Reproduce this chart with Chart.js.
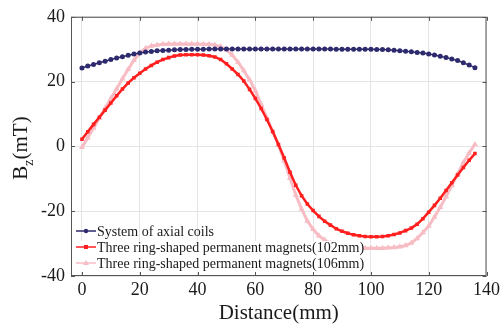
<!DOCTYPE html>
<html>
<head>
<meta charset="utf-8">
<script src="https://cdn.jsdelivr.net/npm/chart.js@4.4.0/dist/chart.umd.min.js"></script>
<style>
  html, body { margin: 0; padding: 0; background: #fff; }
</style>
</head>
<body>
<canvas id="fieldChart" width="503" height="326"></canvas>
<script>
// axial field Bz (mT) along the distance (mm)
const distance = [0, 2, 4, 6, 8, 10, 12, 14, 16, 18, 20, 22, 24, 26, 28, 30, 32, 34, 36, 38,
  40, 42, 44, 46, 48, 50, 52, 54, 56, 58, 60, 62, 64, 66, 68, 70, 72, 74, 76, 78,
  80, 82, 84, 86, 88, 90, 92, 94, 96, 98, 100, 102, 104, 106, 108, 110, 112, 114, 116, 118,
  120, 122, 124, 126, 128, 130, 132, 134, 136];

const coilField = [24.2, 24.8, 25.3, 25.8, 26.3, 26.8, 27.3, 27.7, 28.1, 28.5, 28.8, 29.1, 29.3, 29.5, 29.6, 29.7, 29.8, 29.9, 29.9, 30.0,
  30.0, 30.0, 30.1, 30.1, 30.1, 30.1, 30.1, 30.1, 30.1, 30.1, 30.1, 30.1, 30.1, 30.1, 30.1, 30.1, 30.1, 30.1, 30.1, 30.1,
  30.1, 30.1, 30.1, 30.1, 30.0, 30.0, 30.0, 30.0, 30.0, 30.0, 30.0, 29.9, 29.9, 29.8, 29.7, 29.5, 29.4, 29.2, 29.0, 28.8,
  28.5, 28.2, 27.8, 27.4, 27.0, 26.5, 25.8, 25.1, 24.3];

const ring102Field = [2.2, 4.5, 6.8, 9.0, 11.2, 13.4, 15.6, 17.7, 19.6, 21.2, 22.6, 23.9, 25.0, 26.0, 26.8, 27.4, 27.9, 28.2, 28.3, 28.3,
  28.3, 28.2, 28.0, 27.6, 26.8, 25.5, 23.9, 22.2, 20.2, 17.6, 14.8, 11.7, 8.3, 4.6, 0.6, -3.6, -8.0, -12.0, -15.2, -17.8,
  -19.8, -21.6, -23.1, -24.3, -25.4, -26.2, -26.8, -27.3, -27.6, -27.8, -27.9, -27.9, -27.8, -27.6, -27.2, -26.7, -26.0, -25.2, -24.0, -22.3,
  -20.3, -18.2, -16.0, -13.6, -11.2, -8.8, -6.5, -4.3, -2.2];

const ring106Field = [-0.3, 2.7, 5.7, 8.7, 11.8, 14.8, 17.8, 20.9, 23.8, 26.6, 28.9, 30.3, 31.0, 31.3, 31.5, 31.6, 31.6, 31.6, 31.6, 31.6,
  31.6, 31.5, 31.5, 31.3, 30.8, 29.8, 28.2, 26.0, 23.4, 20.6, 17.2, 13.0, 8.8, 4.6, 0.4, -4.4, -9.8, -15.0, -19.3, -23.0,
  -25.6, -27.6, -28.9, -29.9, -30.6, -31.0, -31.2, -31.3, -31.4, -31.4, -31.4, -31.4, -31.4, -31.3, -31.2, -31.0, -30.6, -29.8, -28.4, -26.6,
  -24.6, -21.8, -18.8, -15.5, -12.1, -8.5, -5.0, -2.0, 0.6];

const seriesNames = [
  'System of axial coils',
  'Three ring-shaped permanent magnets(102mm)',
  'Three ring-shaped permanent magnets(106mm)'
];
const xTicks = [0, 20, 40, 60, 80, 100, 120, 140];
const yTicks = [-40, -20, 0, 20, 40];

const serif = "'Liberation Serif', 'Times New Roman', serif";
const colors = ['#2e2a6e', '#ff1f1f', '#f7bcc4'];
const markers = ['circle', 'rect', 'triangle'];

function points(values) {
  return distance.map((d, i) => ({ x: d, y: values[i] }));
}

// frame with inward ticks, legend inside the plot, and the B_z axis title
const decorations = {
  id: 'decorations',
  afterDraw(chart) {
    const ctx = chart.ctx;
    const area = chart.chartArea;
    const xs = chart.scales.x, ys = chart.scales.y;
    ctx.save();

    // legend (white patch only behind the two lower rows, as in the original)
    ctx.fillStyle = '#fff';
    ctx.fillRect(73, 241, 290, 31);
    ctx.font = '14px ' + serif;
    ctx.textBaseline = 'middle';
    const rows = [231, 247, 263];
    for (let i = 0; i < 3; i++) {
      const y = rows[i];
      ctx.strokeStyle = colors[i];
      ctx.fillStyle = colors[i];
      ctx.lineWidth = 1.5;
      ctx.beginPath();
      ctx.moveTo(76, y);
      ctx.lineTo(96, y);
      ctx.stroke();
      ctx.beginPath();
      if (markers[i] === 'circle') {
        ctx.arc(86, y, 2.2, 0, Math.PI * 2);
      } else if (markers[i] === 'rect') {
        ctx.rect(84, y - 2, 4, 4);
      } else {
        ctx.moveTo(86, y - 3);
        ctx.lineTo(89, y + 2);
        ctx.lineTo(83, y + 2);
        ctx.closePath();
      }
      ctx.fill();
      ctx.fillStyle = '#1a1a1a';
      ctx.fillText(seriesNames[i], 97, y + 1);
    }

    // frame
    ctx.strokeStyle = '#555';
    ctx.lineWidth = 1;
    ctx.strokeRect(area.left + 0.5, area.top + 0.5, area.right - area.left - 1, area.bottom - area.top - 1);
    ctx.beginPath();
    xTicks.forEach(v => {
      const px = Math.round(xs.getPixelForValue(v)) + 0.5;
      ctx.moveTo(px, area.bottom);
      ctx.lineTo(px, area.bottom - 4);
      ctx.moveTo(px, area.top);
      ctx.lineTo(px, area.top + 4);
    });
    yTicks.forEach(v => {
      const py = Math.round(ys.getPixelForValue(v)) + 0.5;
      ctx.moveTo(area.left, py);
      ctx.lineTo(area.left + 4, py);
      ctx.moveTo(area.right, py);
      ctx.lineTo(area.right - 4, py);
    });
    ctx.stroke();

    // y title: B_z(mT)
    ctx.translate(27, 148);
    ctx.rotate(-Math.PI / 2);
    ctx.fillStyle = '#1a1a1a';
    ctx.textBaseline = 'alphabetic';
    const big = '21px ' + serif, small = '14px ' + serif;
    ctx.font = big;
    const wB = ctx.measureText('B').width;
    const wU = ctx.measureText('(mT)').width;
    ctx.font = small;
    const wZ = ctx.measureText('z').width;
    let x0 = -(wB + wZ + wU) / 2;
    ctx.font = big;
    ctx.fillText('B', x0, 0);
    ctx.font = small;
    ctx.fillText('z', x0 + wB, 6);
    ctx.font = big;
    ctx.fillText('(mT)', x0 + wB + wZ, 0);
    ctx.restore();
  }
};

new Chart(document.getElementById('fieldChart'), {
  type: 'line',
  data: {
    datasets: [
      {
        label: seriesNames[0],
        data: points(coilField),
        borderColor: colors[0],
        backgroundColor: colors[0],
        borderWidth: 1.5,
        pointStyle: 'circle',
        pointRadius: 2.5,
        pointBorderWidth: 0
      },
      {
        label: seriesNames[1],
        data: points(ring102Field),
        borderColor: colors[1],
        backgroundColor: colors[1],
        borderWidth: 2.5,
        pointStyle: 'rect',
        pointRadius: 2.5,
        pointBorderWidth: 0
      },
      {
        label: seriesNames[2],
        data: points(ring106Field),
        borderColor: colors[2],
        backgroundColor: colors[2],
        borderWidth: 3,
        pointStyle: 'triangle',
        pointRadius: 3.5,
        pointBorderWidth: 0
      }
    ]
  },
  options: {
    responsive: false,
    animation: false,
    devicePixelRatio: 1,
    layout: { padding: { top: 15, right: 15, left: 0, bottom: 0 } },
    plugins: {
      legend: { display: false },
      tooltip: { enabled: false }
    },
    scales: {
      x: {
        type: 'linear',
        min: -3.8,
        max: 140,
        afterBuildTicks: s => { s.ticks = xTicks.map(v => ({ value: v })); },
        afterFit: s => { s.height = 50; },
        grid: { color: '#e4e4e4', drawTicks: false },
        border: { display: false },
        ticks: { color: '#1a1a1a', font: { family: serif, size: 18 }, padding: 3, maxRotation: 0 },
        title: { display: true, text: 'Distance(mm)', color: '#1a1a1a', font: { family: serif, size: 21 }, padding: { top: 4, bottom: 0 } }
      },
      y: {
        min: -40,
        max: 40,
        afterBuildTicks: s => { s.ticks = yTicks.map(v => ({ value: v })); },
        afterFit: s => { s.width = 71; },
        grid: { color: '#e4e4e4', drawTicks: false },
        border: { display: false },
        ticks: { color: '#1a1a1a', font: { family: serif, size: 18 }, padding: 6 }
      }
    }
  },
  plugins: [decorations]
});
</script>
</body>
</html>
